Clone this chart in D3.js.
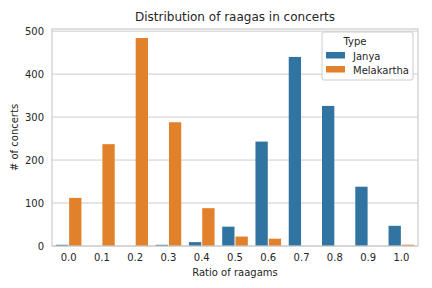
<!DOCTYPE html>
<html>
<head>
<meta charset="utf-8">
<script src="https://cdn.jsdelivr.net/npm/d3@7"></script>
<style>
  body { margin: 0; background: #fff; }
  svg { display: block; font-family: "DejaVu Sans", sans-serif; }
</style>
</head>
<body>
<svg id="chart" width="432" height="288"></svg>
<script>
// ratios on the x axis
const ratios = ["0.0", "0.1", "0.2", "0.3", "0.4", "0.5", "0.6", "0.7", "0.8", "0.9", "1.0"];
const types = ["Janya", "Melakartha"];
// concert counts
const janya = [2, 0, 0, 2, 9, 45, 243, 440, 326, 138, 47];
const melakartha = [112, 237, 484, 288, 88, 22, 17, 0, 0, 0, 3];
const yTicks = [0, 100, 200, 300, 400, 500];

const colors = { Janya: "#3274a1", Melakartha: "#e1812c" };
const ink = "#262626";

const svg = d3.select("#chart");
const margin = { top: 29, right: 14, bottom: 42, left: 52 };
const width = 432 - margin.left - margin.right;
const height = 288 - margin.top - margin.bottom;

const rows = ratios.map((r, i) => ({ ratio: r, Janya: janya[i], Melakartha: melakartha[i] }));

const x = d3.scaleBand().domain(ratios).range([0, width]).paddingInner(0.2).paddingOuter(0.1);
const xIn = d3.scaleBand().domain(types).range([0, x.bandwidth()]);
const y = d3.scaleLinear().domain([0, 505]).range([height, 0]);

const g = svg.append("g").attr("transform", `translate(${margin.left},${margin.top})`);

// grid
g.append("g")
    .selectAll("line")
    .data(yTicks)
    .join("line")
    .attr("x1", 0).attr("x2", width)
    .attr("y1", d => y(d)).attr("y2", d => y(d))
    .attr("stroke", "#cccccc")
    .attr("stroke-width", 1);

// bars (thin white gap between neighbours, like the white edges)
g.append("g")
    .selectAll("g")
    .data(rows)
    .join("g")
    .attr("transform", d => `translate(${x(d.ratio)},0)`)
    .selectAll("rect")
    .data(d => types.map(t => ({ type: t, value: d[t] })).filter(d => d.value > 0))
    .join("rect")
    .attr("x", d => xIn(d.type) + 0.5)
    .attr("width", xIn.bandwidth() - 1)
    .attr("y", d => Math.min(y(d.value), y(0) - 1.2))
    .attr("height", d => Math.max(y(0) - y(d.value), 1.2))
    .attr("fill", d => colors[d.type]);

// spines
g.append("rect")
    .attr("x", 0).attr("y", 0)
    .attr("width", width).attr("height", height)
    .attr("fill", "none")
    .attr("stroke", "#cccccc")
    .attr("stroke-width", 1.2);

// axes
const xAxis = g.append("g")
    .attr("transform", `translate(0,${height})`)
    .call(d3.axisBottom(x).tickSize(0).tickPadding(8));
const yAxis = g.append("g")
    .call(d3.axisLeft(y).tickValues(yTicks).tickSize(0).tickPadding(8));
[xAxis, yAxis].forEach(a => {
    a.select(".domain").remove();
    a.selectAll("text")
        .attr("fill", ink)
        .style("font-size", "10px")
        .style("font-family", "DejaVu Sans, sans-serif");
});

// titles
svg.append("text")
    .attr("x", margin.left + width / 2).attr("y", 21)
    .attr("text-anchor", "middle")
    .attr("fill", ink)
    .style("font-size", "12px")
    .text("Distribution of raagas in concerts");

svg.append("text")
    .attr("x", margin.left + width / 2).attr("y", 276)
    .attr("text-anchor", "middle")
    .attr("fill", ink)
    .style("font-size", "10px")
    .text("Ratio of raagams");

svg.append("text")
    .attr("transform", `translate(18,${margin.top + height / 2}) rotate(-90)`)
    .attr("text-anchor", "middle")
    .attr("fill", ink)
    .style("font-size", "10px")
    .text("# of concerts");

// legend
const lg = svg.append("g").attr("transform", "translate(322,32)");
lg.append("rect")
    .attr("width", 91).attr("height", 48)
    .attr("rx", 2)
    .attr("fill", "#fff").attr("fill-opacity", 0.8)
    .attr("stroke", "#cccccc");
lg.append("text")
    .attr("x", 33).attr("y", 13)
    .attr("text-anchor", "middle")
    .attr("fill", ink)
    .style("font-size", "10px")
    .text("Type");
types.forEach((t, i) => {
    const row = lg.append("g").attr("transform", `translate(4,${20 + i * 14})`);
    row.append("rect")
        .attr("width", 19).attr("height", 6.5)
        .attr("fill", colors[t]);
    row.append("text")
        .attr("x", 27).attr("y", 7.5)
        .attr("fill", ink)
        .style("font-size", "10px")
        .text(t);
});
</script>
</body>
</html>
